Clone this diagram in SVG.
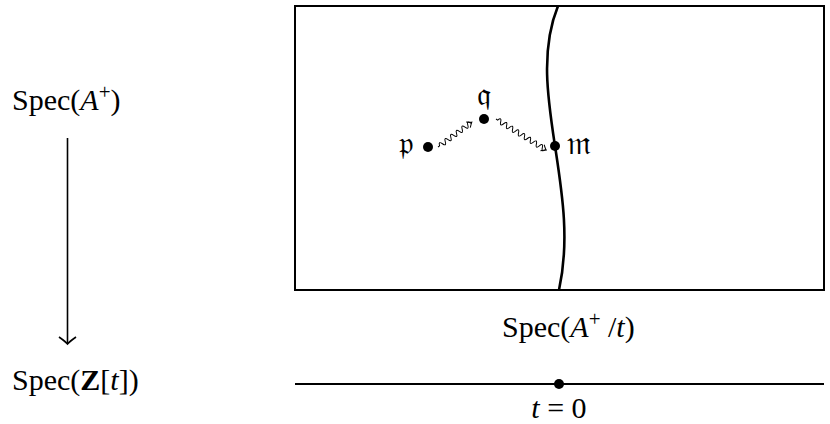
<svg xmlns="http://www.w3.org/2000/svg" width="830" height="424" viewBox="0 0 830 424">
<style>
text{font-family:"Liberation Serif","DejaVu Serif",serif;fill:#000}
.lbl{font-size:30px}
.it{font-style:italic}
.frak{font-family:"DejaVu Serif","DejaVu Sans","Noto Sans",serif;font-size:32px}
.ln{fill:none;stroke:#000}
.dot{fill:#000}
</style>
<defs>
<marker id="to" markerWidth="10" markerHeight="10" refX="0" refY="0" viewBox="-6 -5 8 10" orient="auto" markerUnits="userSpaceOnUse">
<path d="M-4.5,-3.5 Q-1.5,-0.8 0,0 Q-1.5,0.8 -4.5,3.5" fill="none" stroke="#000" stroke-width="1"/>
</marker>
<marker id="bigto" markerWidth="24" markerHeight="24" refX="0" refY="0" viewBox="-12 -12 24 24" orient="auto" markerUnits="userSpaceOnUse">
<path d="M-7,-8.5 Q-2,-1.5 0,0 Q-2,1.5 -7,8.5" fill="none" stroke="#000" stroke-width="1.6"/>
</marker>
</defs>
<g id="spec-A">
<rect x="295" y="6" width="529" height="284" class="ln" stroke-width="2"/>
<path d="M558,6 C540,50 548,100 555,146 C562,192 570,240 559,290" class="ln" stroke-width="2.6"/>
</g>
<g id="spec-Zt">
<line x1="295" y1="384" x2="824" y2="384" class="ln" stroke-width="2"/>
<circle cx="559" cy="384" r="5" class="dot"/>
</g>
<g id="node-p">
<circle cx="428" cy="147" r="5" class="dot"/>
<text x="406" y="154" class="frak" text-anchor="middle">𝔭</text>
</g>
<g id="node-q">
<circle cx="484" cy="119" r="5" class="dot"/>
<text x="484" y="105" class="frak" text-anchor="middle">𝔮</text>
</g>
<g id="node-m">
<circle cx="555" cy="146" r="5" class="dot"/>
<text x="579" y="154" class="frak" text-anchor="middle">𝔪</text>
</g>
<g id="labels">
<text x="12" y="110" class="lbl">Spec(<tspan class="it">A</tspan><tspan font-size="21" dy="-11">+</tspan><tspan dy="11">)</tspan></text>
<text x="12" y="390" class="lbl">Spec(<tspan font-weight="bold">Z</tspan>[<tspan class="it">t</tspan>])</text>
<text x="502" y="337" class="lbl">Spec(<tspan class="it">A</tspan><tspan font-size="21" dy="-11">+</tspan><tspan dy="11"> /</tspan><tspan class="it">t</tspan>)</text>
<text x="559" y="418" class="lbl" text-anchor="middle"><tspan class="it">t</tspan> = 0</text>
</g>
<g id="connectors">
<line x1="67.5" y1="138" x2="67.5" y2="344" class="ln" stroke-width="1.6" marker-end="url(#bigto)"/>
<path transform="translate(438,147) rotate(-36.3)" d="M0,0 h2 q1.75,-5 3.5,0 t3.5,0 t3.5,0 t3.5,0 t3.5,0 t3.5,0 t3.5,0 t3.5,0 t3.5,0 t3.5,0 t3.5,0 h1.5" class="ln" stroke-width="1" marker-end="url(#to)"/>
<path transform="translate(496,119) rotate(31.8)" d="M0,0 h2 q1.75,-5 3.5,0 t3.5,0 t3.5,0 t3.5,0 t3.5,0 t3.5,0 t3.5,0 t3.5,0 t3.5,0 t3.5,0 t3.5,0 t3.5,0 t3.5,0 t3.5,0 t3.5,0 t3.5,0 h1" class="ln" stroke-width="1" marker-end="url(#to)"/>
</g>
</svg>
